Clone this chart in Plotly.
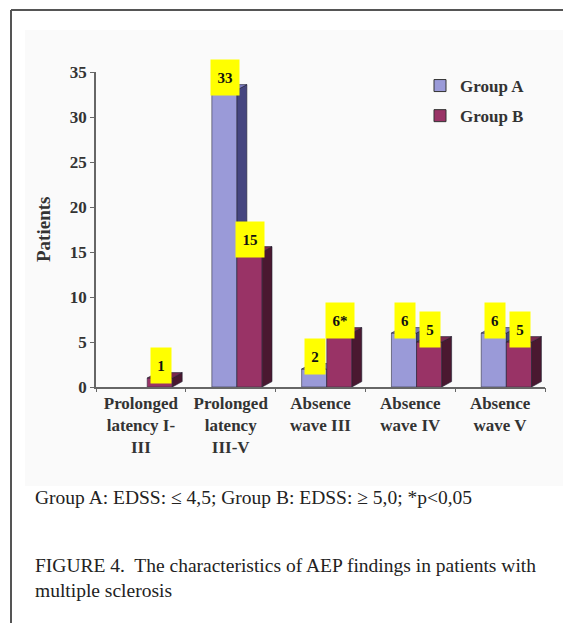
import plotly.graph_objects as go

# ---- data ----
categories = ["Prolonged<br>latency I-<br>III", "Prolonged<br>latency<br>III-V",
              "Absence<br>wave III", "Absence<br>wave IV", "Absence<br>wave V"]
group_a = [0, 33, 2, 6, 6]
group_b = [1, 15, 6, 5, 5]
labels_a = ["", "33", "2", "6", "6"]
labels_b = ["1", "15", "6*", "5", "5"]
y_ticks = [0, 5, 10, 15, 20, 25, 30, 35]

# ---- styling ----
W, H = 563, 623
L, R, T, B = 96, 545, 72, 387           # plot area in pixels
SERIF = "Liberation Serif, Times New Roman, serif"
col_a_front, col_a_side, col_a_top = "#9a9ad8", "#45457f", "#7a7ac0"
col_b_front, col_b_side, col_b_top = "#993366", "#4a1830", "#7a2850"
bar_w = 0.28
off_a, off_b = 0.29, 0.57
dx, dy = 0.11, 0.6


def px(xp):
    return (xp - L) / (R - L)


def py(yp):
    return (B - yp) / (B - T)


fig = go.Figure()


def add_bar3d(x0, v, front, side, top):
    x1 = x0 + bar_w
    fig.add_trace(go.Scatter(x=[x0, x1, x1, x0, x0], y=[0, 0, v, v, 0], fill="toself",
                             fillcolor=front, mode="lines", line=dict(color="#333344", width=0.6),
                             showlegend=False, hoverinfo="skip"))
    fig.add_trace(go.Scatter(x=[x1, x1 + dx, x1 + dx, x1, x1], y=[0, dy, v + dy, v, 0], fill="toself",
                             fillcolor=side, mode="lines", line=dict(color="#222233", width=0.6),
                             showlegend=False, hoverinfo="skip"))
    fig.add_trace(go.Scatter(x=[x0, x1, x1 + dx, x0 + dx, x0], y=[v, v, v + dy, v + dy, v], fill="toself",
                             fillcolor=top, mode="lines", line=dict(color="#222233", width=0.6),
                             showlegend=False, hoverinfo="skip"))


for i in range(len(categories)):
    if group_a[i] > 0:
        add_bar3d(i + off_a, group_a[i], col_a_front, col_a_side, col_a_top)
    if group_b[i] > 0:
        add_bar3d(i + off_b, group_b[i], col_b_front, col_b_side, col_b_top)

# legend entries
fig.add_trace(go.Bar(x=[None], y=[None], name="<b>Group A</b>",
                     marker=dict(color=col_a_front, line=dict(color="#333", width=1)), legendgroup="a"))
fig.add_trace(go.Bar(x=[None], y=[None], name="<b>Group B</b>",
                     marker=dict(color=col_b_front, line=dict(color="#333", width=1)), legendgroup="b"))

# value labels (yellow boxes)
for i in range(len(categories)):
    for vals, labs, off in ((group_a, labels_a, off_a), (group_b, labels_b, off_b)):
        if labs[i]:
            fig.add_annotation(x=i + off + bar_w / 2 + 0.01, y=vals[i], xref="x", yref="y",
                               text="<b>" + labs[i] + "</b>", showarrow=False,
                               font=dict(family=SERIF, size=15, color="#111"),
                               bgcolor="#ffff00", width=10 + 8 * len(labs[i]), height=33,
                               yshift=13)

# x tick labels via numeric axis
fig.update_xaxes(range=[0, len(categories)], tickvals=[i + 0.5 for i in range(len(categories))],
                 ticktext=["<b>" + c + "</b>" for c in categories], ticks="",
                 tickfont=dict(family=SERIF, size=17, color="#333"),
                 showline=True, linecolor="#666", linewidth=1.5, showgrid=False, zeroline=False,
                 fixedrange=True)
fig.update_layout(xaxis2=dict(overlaying="x", side="bottom", range=[0, len(categories)],
                              tickvals=list(range(len(categories) + 1)), ticks="outside", ticklen=4,
                              tickcolor="#666", showticklabels=False, showgrid=False, zeroline=False,
                              showline=False))
fig.add_trace(go.Scatter(x=[None], y=[None], xaxis="x2", showlegend=False))

fig.update_yaxes(range=[0, 35], tickvals=y_ticks, ticktext=["<b>%d</b>" % t for t in y_ticks],
                 ticks="outside", ticklen=4, tickcolor="#666",
                 tickfont=dict(family=SERIF, size=17, color="#333"),
                 showline=True, linecolor="#666", linewidth=1.5, showgrid=False, zeroline=False)

# y title
fig.add_annotation(x=px(43), y=py(230), xref="paper", yref="paper", xanchor="center", yanchor="middle",
                   text="<b>Patients</b>", textangle=-90, showarrow=False,
                   font=dict(family=SERIF, size=19, color="#333"))

# captions
fig.add_annotation(x=px(33), y=py(497), xref="paper", yref="paper", xanchor="left", yanchor="middle",
                   text="Group A: EDSS: ≤ 4,5; Group B: EDSS: ≥ 5,0; *p<0,05", showarrow=False,
                   font=dict(family=SERIF, size=19.5, color="#222"))
fig.add_annotation(x=px(33), y=py(578), xref="paper", yref="paper", xanchor="left", yanchor="middle",
                   text="FIGURE 4.  The characteristics of AEP findings in patients with<br>multiple sclerosis",
                   showarrow=False, align="left", font=dict(family=SERIF, size=19.5, color="#222"))

# background panel and frame
fig.add_shape(type="rect", xref="paper", yref="paper", x0=px(25), x1=px(563), y0=py(486), y1=py(30),
              fillcolor="#fafafa", line=dict(width=0), layer="below")
fig.add_shape(type="line", xref="paper", yref="paper", x0=px(11), x1=px(11), y0=py(10), y1=py(623),
              line=dict(color="#555", width=2))
fig.add_shape(type="line", xref="paper", yref="paper", x0=px(11), x1=px(563), y0=py(10), y1=py(10),
              line=dict(color="#555", width=2))

fig.update_layout(
    width=W, height=H, margin=dict(l=L, r=W - R, t=T, b=H - B),
    paper_bgcolor="white", plot_bgcolor="rgba(0,0,0,0)",
    showlegend=True,
    legend=dict(x=px(420), y=py(68), xanchor="left", yanchor="top", bgcolor="rgba(0,0,0,0)",
                font=dict(family=SERIF, size=17, color="#333"), tracegroupgap=5,
                itemclick=False),
)

fig.write_html("out.html", config={"displayModeBar": False},
               post_script="document.body.style.margin='0';")
